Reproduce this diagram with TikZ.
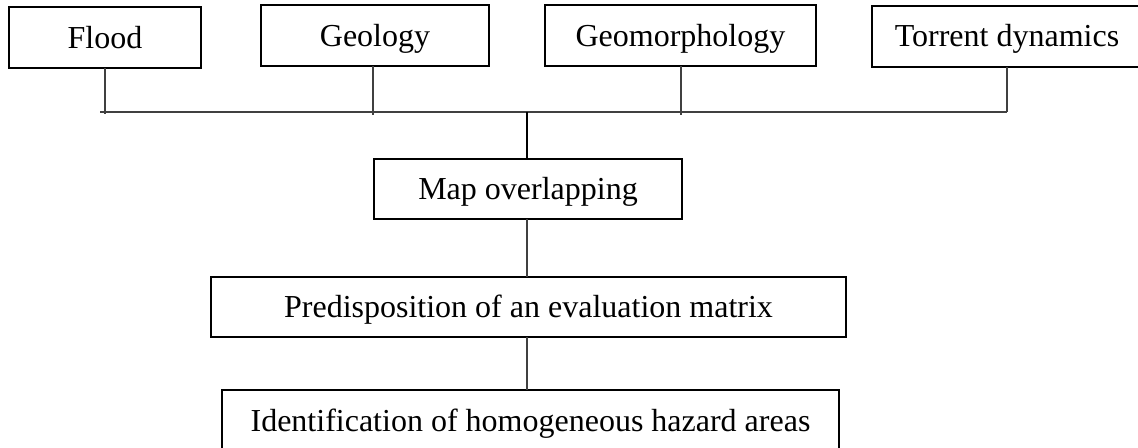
\documentclass[tikz,border=0pt]{standalone}
\usepackage{fontspec}
\setmainfont{Liberation Serif}
\begin{document}
\begin{tikzpicture}[x=0.75pt,y=-0.75pt,
  box/.style={draw=black,line width=1.5pt,inner sep=0pt,outer sep=0pt,font=\fontsize{24}{28}\selectfont,text height=15.9pt,text depth=0pt,anchor=center},
  thin/.style={draw=black!75,line width=0.8pt},
  thick/.style={draw=black,line width=1.6pt}]
\useasboundingbox (0,0) rectangle (1138,447);
\node[box,minimum width=192*0.75pt,minimum height=61*0.75pt] (flood) at (105,37.5) {Flood};
\node[box,minimum width=228*0.75pt,minimum height=61*0.75pt] (geol) at (375,35.5) {Geology};
\node[box,minimum width=271*0.75pt,minimum height=61*0.75pt] (geom) at (680.5,35.5) {Geomorphology};
\node[box,minimum width=270*0.75pt,minimum height=61*0.75pt] (torr) at (1007,36) {Torrent dynamics};
\node[box,minimum width=308*0.75pt,minimum height=60*0.75pt] (map) at (528,189) {Map overlapping};
\node[box,minimum width=635*0.75pt,minimum height=60*0.75pt] (pred) at (528.5,307) {Predisposition of an evaluation matrix};
\node[box,minimum width=617*0.75pt,minimum height=62*0.75pt] (ident) at (530.5,421) {Identification of homogeneous hazard areas};
\coordinate (hl) at (100,112);
\coordinate (hr) at (1007,112);
\coordinate (hm) at (527,112);
\draw[thin] (hl) -- (hr);
\draw[thin] (flood.south -| 105,0) -- (105,114);
\draw[thin] (geol.south -| 373,0) -- (373,115);
\draw[thin] (geom.south -| 681,0) -- (681,115);
\draw[thin] (torr.south -| 1007,0) -- (hr);
\draw[thick] (hm) -- (map.north -| hm);
\draw[thin] (map.south -| hm) -- (pred.north -| hm);
\draw[thin] (pred.south -| hm) -- (ident.north -| hm);
\end{tikzpicture}
\end{document}
